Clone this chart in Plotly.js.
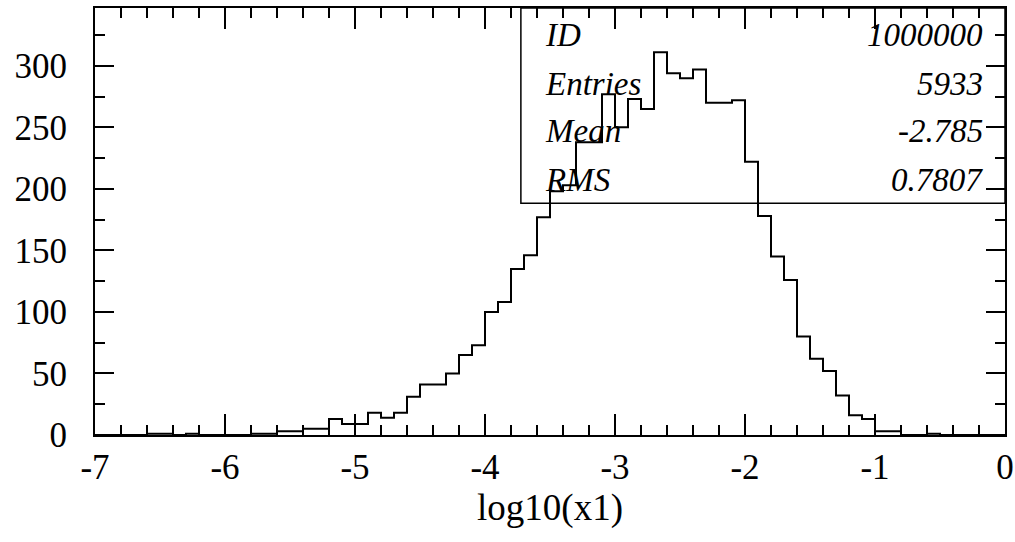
<!DOCTYPE html>
<html>
<head>
<meta charset="utf-8">
<script src="https://cdn.plot.ly/plotly-3.0.1.min.js"></script>
<style>html,body{margin:0;padding:0;background:#fff;}#chart{width:1015px;height:542px;}</style>
</head>
<body>
<div id="chart"></div>
<script>
// Histogram definition
const binStart = -7;
const binWidth = 0.1;
const counts = [
  0, 0, 0, 0, 1, 1, 0, 1, 0, 0,
  0, 0, 1, 1, 3, 3, 5, 5, 13, 9,
  9, 18, 14, 18, 31, 41, 41, 50, 65, 73,
  100, 108, 135, 146, 177, 198, 203, 238, 238, 277,
  250, 273, 265, 311, 294, 290, 297, 270, 270, 272,
  222, 178, 145, 126, 80, 62, 52, 32, 16, 13,
  3, 3, 0, 0, 1, 0, 0, 0, 0, 0
];
const statLabels = ["ID", "Entries", "Mean", "RMS"];
const statValues = ["1000000", "5933", "-2.785", "0.7807"];
const xTickVals = [-7, -6, -5, -4, -3, -2, -1, 0];
const yTickVals = [0, 50, 100, 150, 200, 250, 300];
const xTitle = "log10(x1)";

// step outline from bin edges
const xs = [], ys = [];
counts.forEach((c, i) => { xs.push(+(binStart + i * binWidth).toFixed(4)); ys.push(c); });
xs.push(+(binStart + counts.length * binWidth).toFixed(4));
ys.push(counts[counts.length - 1]);

const trace = {
  x: xs, y: ys, type: 'scatter', mode: 'lines',
  line: {shape: 'hv', color: '#000', width: 2},
  hoverinfo: 'skip', showlegend: false
};

const font = {family: 'Liberation Serif, Times New Roman, serif', size: 35, color: '#000'};
const titleFont = {family: 'Liberation Serif, Times New Roman, serif', size: 37, color: '#000'};

// stats box geometry (paper coords)
const boxX0 = 0.468, boxY0 = 0.543;
const rowY = [0.936, 0.823, 0.713, 0.597];
const annotations = [];
statLabels.forEach((t, i) => {
  annotations.push({xref: 'paper', yref: 'paper', x: 0.492, y: rowY[i], text: t, showarrow: false,
    xanchor: 'left', yanchor: 'middle', font: {family: font.family, size: 33, color: '#000', style: 'italic'}});
  annotations.push({xref: 'paper', yref: 'paper', x: 0.978, y: rowY[i], text: statValues[i], showarrow: false,
    xanchor: 'right', yanchor: 'middle', font: {family: font.family, size: 33, color: '#000', style: 'italic'}});
});

const layout = {
  width: 1015, height: 542,
  margin: {l: 95, r: 10, t: 8, b: 107},
  paper_bgcolor: '#fff', plot_bgcolor: '#fff',
  font: font,
  xaxis: {
    range: [-7, 0], tickmode: 'array', tickvals: xTickVals, ticktext: xTickVals.map(String),
    ticks: 'inside', ticklen: 21, tickwidth: 2, tickcolor: '#000',
    minor: {dtick: 0.2, tick0: 0, ticks: 'inside', ticklen: 10, tickwidth: 2, tickcolor: '#000', showgrid: false},
    showline: true, linewidth: 2, linecolor: '#000', mirror: 'ticks',
    showgrid: false, zeroline: false, tickfont: font, ticklabelstandoff: 0,
    title: {text: xTitle, font: titleFont, standoff: 0}
  },
  yaxis: {
    range: [0, 347], tickmode: 'array', tickvals: yTickVals, ticktext: yTickVals.map(String),
    ticks: 'inside', ticklen: 19, tickwidth: 2, tickcolor: '#000',
    minor: {dtick: 25, tick0: 0, ticks: 'inside', ticklen: 10, tickwidth: 2, tickcolor: '#000', showgrid: false},
    showline: true, linewidth: 2, linecolor: '#000', mirror: 'ticks',
    showgrid: false, zeroline: false, tickfont: font, ticklabelstandoff: 19
  },
  shapes: [{type: 'rect', xref: 'paper', yref: 'paper', x0: boxX0, x1: 1, y0: boxY0, y1: 1,
    line: {color: '#000', width: 1.5}, fillcolor: 'rgba(0,0,0,0)', layer: 'above'}],
  annotations: annotations
};

Plotly.newPlot('chart', [trace], layout, {staticPlot: true, displayModeBar: false});
</script>
</body>
</html>
